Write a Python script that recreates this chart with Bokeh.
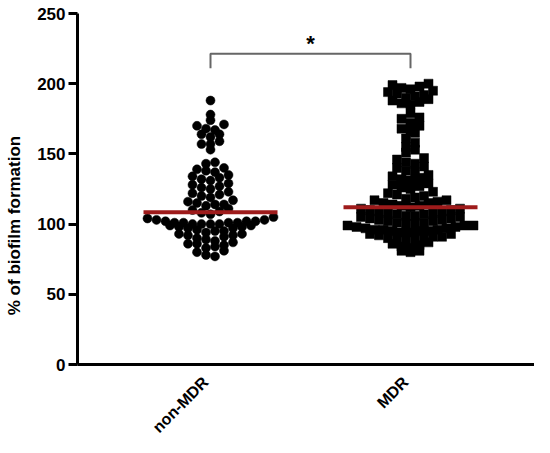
import numpy as np
from bokeh.plotting import figure
from bokeh.models import FixedTicker, Range1d, Label
from bokeh.core.properties import value
from bokeh.embed import file_html
from bokeh.resources import INLINE

categories = ["non-MDR", "MDR"]
non_mdr = [77, 78, 80, 81,
           83, 84, 85, 86, 86, 87,
           88, 89, 90, 91, 92, 92, 93, 93,
           94, 95, 95, 96, 97, 97, 98, 98, 99, 99,
           100, 100, 100, 100, 101, 101, 101, 101, 102, 102, 102, 103, 103, 104, 105,
           107, 108, 109, 110, 111,
           113, 114, 114, 115, 116, 117,
           119, 120, 121, 122, 123,
           125, 126, 127, 128, 129,
           131, 132, 133, 134, 135,
           137, 138, 139, 140,
           143, 144,
           153, 157, 157, 159, 162, 164, 164, 167, 168, 170, 171, 174, 178, 188]
mdr = [80, 81, 81,
       83, 84, 85, 86, 87,
       88, 89, 89, 90, 90, 91, 91, 92, 93, 93,
       94, 94, 95, 95, 95, 96, 96, 96, 97, 97, 98, 98, 99, 99, 99,
       100, 100, 101, 101, 102, 102, 103, 103, 104, 104, 105, 105,
       106, 106, 107, 107, 108, 108, 109, 109, 110, 110, 111, 111,
       112, 113, 113, 114, 115, 115, 116, 117, 117,
       118, 119, 120, 121, 122, 123,
       125, 126, 127, 128, 129,
       131, 132, 133, 134, 135,
       137, 138, 140, 141,
       143, 144, 146, 147,
       151, 153, 155, 158, 161, 165,
       166, 168, 170, 172, 175, 176, 179,
       185, 186, 187, 188, 189,
       190, 191, 192, 193, 194, 195,
       196, 197, 198, 199, 200]
medians = [108.5, 112.0]
y_ticks = [0, 50, 100, 150, 200, 250]
y_max = 250
significance = "*"

W, H = 534, 437
B_LEFT, B_TOP = 77, 13
AXIS_Y_PX = 364                     # pixel row of y = 0
XR = (0.335, 2.62)
px_x = (W - B_LEFT) / (XR[1] - XR[0])
px_y = (AXIS_Y_PX - B_TOP) / y_max
y_start = y_max - (H - B_TOP) / px_y   # frame runs down to the bottom edge
YR = (y_start, y_max)

BIN = 6.0      # row height, data units
STEP = 9.0     # horizontal spacing between symbols, px


def spread(values, start=76.0):
    """GraphPad-like scatter: points binned into rows, spread horizontally."""
    vals = np.asarray(values, dtype=float)
    bins = np.floor((vals - start) / BIN).astype(int)
    offs = np.zeros(len(vals))
    for b in np.unique(bins):
        idx = np.where(bins == b)[0]
        idx = idx[np.argsort(vals[idx], kind="stable")]
        n = len(idx)
        slots = (np.arange(n) - (n - 1) / 2.0) * STEP
        order = sorted(range(n), key=lambda k: (abs(slots[k]), k % 2))
        for k, i in zip(order, idx):
            offs[i] = slots[k]
    return offs / px_x


p = figure(width=W, height=H, output_backend="svg", toolbar_location=None,
           x_range=Range1d(*XR), y_range=Range1d(*YR))
p.min_border_left = B_LEFT
p.min_border_right = 0
p.min_border_top = B_TOP
p.min_border_bottom = 0
p.outline_line_color = None
p.grid.visible = False
p.xaxis.visible = False
p.background_fill_color = "white"
p.border_fill_color = "white"

x1 = 1 + spread(non_mdr)
x2 = 2 + spread(mdr)
p.scatter(x=x1, y=non_mdr, marker="circle", size=9, fill_color="black", line_color="black", line_width=0.5)
p.scatter(x=x2, y=mdr, marker="square", size=9, fill_color="black", line_color="black", line_width=0.5)

hw = 0.335
p.segment(x0=[1 - hw, 2 - hw], y0=medians, x1=[1 + hw, 2 + hw], y1=medians,
          line_color="#9e1b1b", line_width=4)

# x axis line at y = 0
p.segment(x0=[XR[0]], y0=[0], x1=[XR[1]], y1=[0], line_color="black", line_width=3,
          line_cap="square")

# category labels, rotated 45 degrees, below the x axis
lab_x = [i + 1 - 11.0 / px_x for i in range(len(categories))]
lab_y = [-9.0 / px_y] * len(categories)
p.text(x=lab_x, y=lab_y, text=categories, angle=np.pi / 4,
       text_align="right", text_baseline="top",
       text_font=value("Liberation Sans"), text_font_style="bold",
       text_font_size=value("16px"), text_color="black")

# significance bracket
top_y = 221.4
drop_y = 211.0
p.line(x=[1, 1, 2, 2], y=[drop_y, top_y, top_y, drop_y], line_color="#666666", line_width=2)
p.add_layout(Label(x=1.5, y=top_y + 7.5, text=significance, text_align="center",
                   text_baseline="middle",
                   text_font="Liberation Sans", text_font_style="bold",
                   text_font_size="22px", text_color="black"))

ax = p.yaxis
ax.bounds = (0, y_max)
ax.axis_line_width = 3
ax.axis_line_color = "black"
ax.minor_tick_line_color = None
ax.major_label_text_font = "Liberation Sans"
ax.major_label_text_font_style = "bold"
ax.major_label_text_font_size = "17px"
ax.major_label_text_color = "black"
ax.ticker = FixedTicker(ticks=y_ticks)
ax.major_tick_out = 9
ax.major_tick_in = 0
ax.major_tick_line_width = 3
ax.major_label_standoff = 3
ax.axis_label = "% of biofilm formation"
ax.axis_label_text_font = "Liberation Sans"
ax.axis_label_text_font_style = "bold"
ax.axis_label_text_font_size = "17px"
ax.axis_label_text_color = "black"
ax.axis_label_standoff = 10

open("out.html", "w").write(file_html(p, INLINE))
